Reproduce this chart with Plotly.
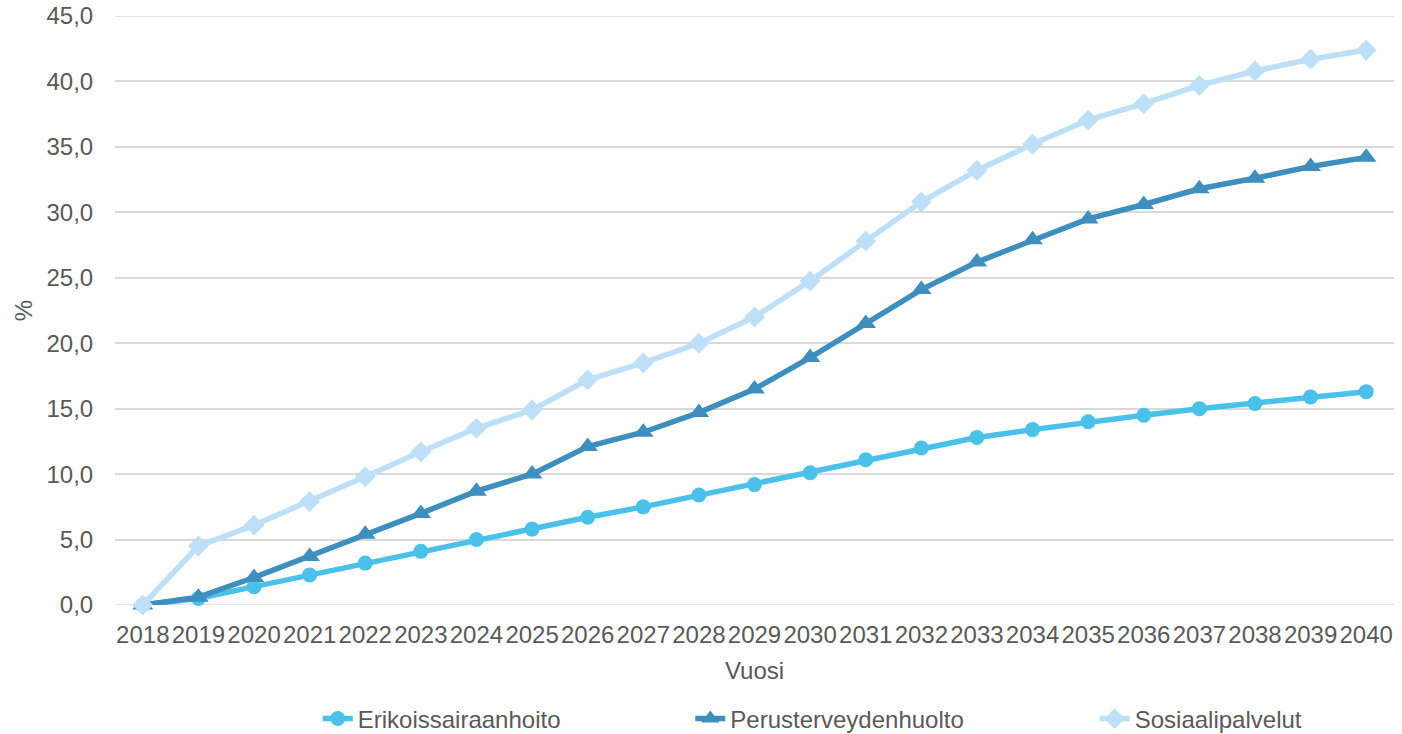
import plotly.graph_objects as go

years = list(range(2018, 2041))
erikoissairaanhoito = [0.0, 0.5, 1.4, 2.3, 3.2, 4.1, 5.0, 5.8, 6.7, 7.5, 8.4, 9.2, 10.1,
                       11.1, 12.0, 12.8, 13.4, 14.0, 14.5, 15.0, 15.4, 15.9, 16.3]
perusterveydenhuolto = [0.0, 0.6, 2.1, 3.7, 5.4, 7.0, 8.7, 10.0, 12.1, 13.2, 14.7, 16.5, 18.9,
                        21.5, 24.1, 26.2, 27.9, 29.5, 30.6, 31.8, 32.6, 33.5, 34.2]
sosiaalipalvelut = [0.0, 4.5, 6.1, 7.9, 9.8, 11.7, 13.5, 14.9, 17.2, 18.5, 20.0, 22.0, 24.75,
                    27.8, 30.8, 33.2, 35.2, 37.05, 38.3, 39.7, 40.8, 41.7, 42.4]
y_ticks = [0, 5, 10, 15, 20, 25, 30, 35, 40, 45]

FONT = "Liberation Sans, Arial, sans-serif"
TXT = "#595959"
FS = 24

fig = go.Figure()
fig.add_trace(go.Scatter(x=years, y=erikoissairaanhoito, name="Erikoissairaanhoito",
                         mode="lines+markers", line=dict(color="#4BC1EA", width=5.5),
                         marker=dict(symbol="circle", size=15, color="#4BC1EA"),
                         legend="legend", showlegend=True, cliponaxis=False))
fig.add_trace(go.Scatter(x=years, y=perusterveydenhuolto, name="Perusterveydenhuolto",
                         mode="lines+markers", line=dict(color="#3F8FBE", width=5.5),
                         marker=dict(symbol="triangle-up", size=18, color="#3F8FBE"),
                         legend="legend2", showlegend=True, cliponaxis=False))
fig.add_trace(go.Scatter(x=years, y=sosiaalipalvelut, name="Sosiaalipalvelut",
                         mode="lines+markers", line=dict(color="#BDDFF7", width=5.5),
                         marker=dict(symbol="diamond", size=16, color="#BDDFF7"),
                         legend="legend3", showlegend=True, cliponaxis=False))

leg_common = dict(orientation="h", yanchor="middle", xanchor="left", y=-0.1935,
                  font=dict(family=FONT, size=FS, color=TXT), bgcolor="rgba(0,0,0,0)",
                  itemwidth=30, visible=True)
fig.update_layout(
    width=1402, height=734,
    margin=dict(l=115, r=8, t=16, b=129, autoexpand=False),
    paper_bgcolor="white", plot_bgcolor="white",
    separators=", ",
    showlegend=True,
    font=dict(family=FONT, size=FS, color=TXT),
    legend=dict(x=0.1585, **leg_common),
    legend2=dict(x=0.4498, **leg_common),
    legend3=dict(x=0.766, **leg_common),
    xaxis=dict(range=[2017.5, 2040.5], tickmode="array", tickvals=years,
               ticktext=[str(y) for y in years], showgrid=False, zeroline=False,
               showline=False, ticks="outside", ticklen=8, tickcolor="rgba(0,0,0,0)",
               automargin=False, ticklabeloverflow="allow",
               tickfont=dict(family=FONT, size=FS, color=TXT),
               title=dict(text="Vuosi", font=dict(family=FONT, size=FS, color=TXT), standoff=15)),
    yaxis=dict(range=[0, 45], tickmode="array", tickvals=y_ticks, tickformat=".1f",
               showgrid=True, gridcolor="#D9D9D9", gridwidth=1.5, zeroline=False,
               showline=False, ticks="outside", ticklen=16, tickcolor="rgba(0,0,0,0)",
               automargin=False, ticklabeloverflow="allow",
               tickfont=dict(family=FONT, size=FS, color=TXT),
               title=dict(text="%", font=dict(family=FONT, size=FS, color=TXT), standoff=7)),
)
# top and zero gridlines (edges of the plotting area)
fig.add_shape(type="line", xref="paper", yref="y", x0=0, x1=1, y0=y_ticks[0], y1=y_ticks[0],
              line=dict(color="#D9D9D9", width=1.5), layer="below")
fig.add_shape(type="line", xref="paper", yref="y", x0=0, x1=1, y0=y_ticks[-1], y1=y_ticks[-1],
              line=dict(color="#D9D9D9", width=1.5), layer="below")

fig.write_html("out.html", config={"displayModeBar": False},
               post_script="document.body.style.margin='0';")
